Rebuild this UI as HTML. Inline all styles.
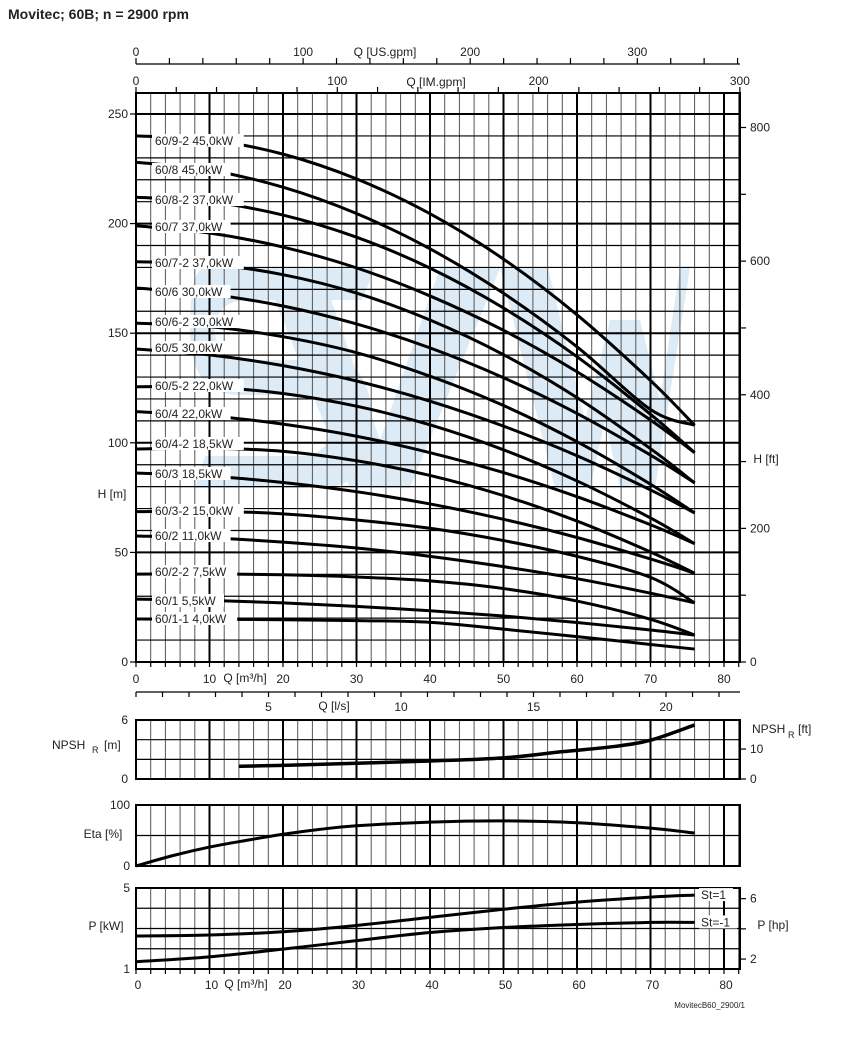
<!DOCTYPE html>
<html><head><meta charset="utf-8"><style>
body{margin:0;background:#fff;}
svg{display:block;font-family:"Liberation Sans",Arial,sans-serif;}
</style></head><body>
<svg id="chart" width="844" height="1053" viewBox="0 0 844 1053" xmlns="http://www.w3.org/2000/svg">
<text x="8" y="19" font-size="14" font-weight="bold" fill="#222">Movitec; 60B; n = 2900 rpm</text>
<g id="wm" fill="#d6e8f4" opacity="0.85">
<path d="M205 268 L375 268 L362 300 L250 300 Q215 300 215 330 Q215 360 250 360 L330 360 Q370 360 372 420 Q372 488 320 488 L195 488 L205 456 L300 456 Q330 456 330 425 Q330 395 300 395 L240 395 Q190 395 190 330 Q190 268 205 268Z"/>
<path d="M262 268 L320 268 L380 440 L440 268 L500 268 L410 488 L350 488Z"/>
<path d="M500 268 L548 268 L585 420 L610 320 L640 320 L660 400 L680 268 L690 268 L655 488 L620 488 L605 420 L590 488 L555 488Z"/>
</g>
<g id="grid"></g>
<g id="curves"></g>
<g id="labels"></g>
<g id="axes"></g>
</svg>
<script>
// ---- data ----
const qPts = [0,10,20,30,40,50,60,70,76];
const curveNames = ["60/9-2 45,0kW","60/8 45,0kW","60/8-2 37,0kW","60/7 37,0kW","60/7-2 37,0kW","60/6 30,0kW","60/6-2 30,0kW","60/5 30,0kW","60/5-2 22,0kW","60/4 22,0kW","60/4-2 18,5kW","60/3 18,5kW","60/3-2 15,0kW","60/2 11,0kW","60/2-2 7,5kW","60/1 5,5kW","60/1-1 4,0kW"];
const h92 = [240,238.2,231.7,220.4,204.5,183.8,158.4,128.4,108];
const h8  = [228,224.4,216.6,204.6,188.5,168.2,143.8,115.2,108];
const h82 = [212,210,203.9,193.8,179.7,161.5,139.3,113,95.5];
const h7  = [199,195.7,189.3,179.8,167,151.3,132.4,110.4,95.5];
const h72 = [182.6,181.5,176.7,168.3,156,140.2,120.6,97.3,81.7];
const h6  = [170.6,167.8,162.4,154.2,143.3,129.7,113.4,94.4,81.7];
const h62 = [154.6,153,148.4,141.1,130.4,117,100.5,81.1,68];
const h5  = [142.8,140.1,135.2,128.2,119,107.6,94.1,78.5,68];
const h52 = [125.6,125.4,122.5,116.7,108.2,96.8,82.6,65.7,54];
const h4  = [114.2,112.3,108.5,103,95.5,86.4,75.4,62.6,54];
const h42 = [97.2,97.5,96.1,91.8,85.1,75.9,64.3,50.2,40.5];
const h3  = [86.2,84.8,81.9,77.7,72.1,65.1,56.8,47,40.5];
const h32 = [68.6,68.8,67.6,64.8,61,55.4,48.2,38.6,27];
const h2  = [57.5,56.6,54.7,52,48.2,43.5,38,31.4,27];
const h22 = [40.1,40.2,39.8,38.8,37,33.5,27.8,19.5,12.3];
const h1  = [28.7,28.1,27,25.4,23.4,21,18,14.6,12.3];
const h11 = [19.6,19.5,19.3,18.9,18.1,15,11.6,8,5.9];
const labelY = [143,172,202,229,265,294,324,350,388,416,446,476,513,538,574,603,621];
const npshQ = [14,20,30,40,50,58,65,70,76];
const npshV = [1.3,1.38,1.6,1.83,2.15,2.78,3.3,3.95,5.5];
const etaQ = [0,5,10,15,20,25,30,40,50,60,70,76];
const etaV = [0,17,31,42,52,60,66,72,74,71,62,54];
const pQ = [0,10,20,30,40,50,60,70,76];
const pSt1 = [2.63,2.68,2.84,3.15,3.55,3.95,4.3,4.55,4.65];
const pStm1 = [1.36,1.6,1.98,2.4,2.8,3.05,3.2,3.3,3.3];
const qTicks = [0,10,20,30,40,50,60,70,80];
const hTicks = [0,50,100,150,200,250];
const ftTicks = [0,200,400,600,800];
const usTicks = [0,100,200,300];
const imTicks = [0,100,200,300];
const lsTicks = [5,10,15,20];
const hpTicks = [2,4,6];
const hpLabels = [2,6];

// ---- scales ----
const X0=136, XR=740, PXQ=7.35;
const xQ = q => X0 + q*PXQ;
const yH = h => 662 - h*2.192;
const yN = v => 779 - v*9.83;
const yE = v => 866 - v*0.61;
const yP = v => 969 - (v-1)*20.25;
const NS="http://www.w3.org/2000/svg";
function mk(tag, attrs, parent){const e=document.createElementNS(NS,tag);for(const k in attrs)e.setAttribute(k,attrs[k]);parent.appendChild(e);return e;}
const grid=document.getElementById('grid'), curves=document.getElementById('curves'), labels=document.getElementById('labels'), axes=document.getElementById('axes');

function spline(xs, ys){
  const p=xs.map((x,i)=>[x,ys[i]]);
  let d=`M${p[0][0]},${p[0][1]}`;
  for(let i=0;i<p.length-1;i++){
    const p0=p[i-1]||p[i], p1=p[i], p2=p[i+1], p3=p[i+2]||p2;
    const c1=[p1[0]+(p2[0]-p0[0])/6, p1[1]+(p2[1]-p0[1])/6];
    const c2=[p2[0]-(p3[0]-p1[0])/6, p2[1]-(p3[1]-p1[1])/6];
    d+=` C${c1[0]},${c1[1]} ${c2[0]},${c2[1]} ${p2[0]},${p2[1]}`;
  }
  return d;
}

function panelGrid(top,bottom,hLines,name){
  for(let q=0;q<=82;q+=2){
    const major=q%10===0;
    const l=mk('line',{x1:xQ(q),x2:xQ(q),y1:top,y2:bottom,stroke:major?'#000':'#555','stroke-width':major?2:1},grid);
    
    
  }
  hLines.forEach(o=>{
    const l=mk('line',{x1:X0,x2:XR,y1:o.y,y2:o.y,stroke:'#000','stroke-width':o.w},grid);
    
    
  });
  const r=mk('rect',{x:X0,y:top,width:XR-X0,height:bottom-top,fill:'none',stroke:'#000','stroke-width':2},grid);
  
  
}
const mainH=[];
for(let h=0;h<=250;h+=10) mainH.push({y:yH(h),w:h%50===0?2:1.2});
panelGrid(93,662,mainH,'head-plot');
panelGrid(yN(6),yN(0),[2,4].map(v=>({y:yN(v),w:1.2})),'npsh-plot');
panelGrid(yE(100),yE(0),[{y:yE(50),w:1.2}],'eta-plot');
panelGrid(yP(5),yP(1),[2,3,4].map(v=>({y:yP(v),w:1.2})),'power-plot');

function txt(x,y,s,size,anchor,name,parent){
  const t=mk('text',{x:x,y:y,'font-size':size||12,'text-anchor':anchor||'middle',fill:'#222'},parent||axes);
  t.textContent=s;
  
  
  return t;
}
function tick(x1,y1,x2,y2,name){
  const l=mk('line',{x1,y1,x2,y2,stroke:'#000','stroke-width':1.2},axes);
  
  
}

const hs=[h92,h8,h82,h7,h72,h6,h62,h5,h52,h4,h42,h3,h32,h2,h22,h1,h11];
hs.forEach((arr,i)=>{
  const p=mk('path',{d:spline(qPts.map(xQ),arr.map(yH)),fill:'none',stroke:'#000','stroke-width':3},curves);
  
  
});
curveNames.forEach((n,i)=>{
  const w=n.length*6.6+6;
  const r=mk('rect',{x:152,y:labelY[i]-9,width:w,height:13,fill:'#fff'},labels);
  
  
  txt(155,labelY[i]+2,n,12,'start','curve-label',labels);
});

hTicks.forEach(h=>{txt(128,yH(h)+4,String(h),12,'end','h-tick-label');tick(130,yH(h),136,yH(h),'h-tick');});
txt(112,498,'H [m]',12,'middle','y-axis-title-h');
for(let f=0;f<=800;f+=100){const y=662-f*0.3048*2.192;tick(740,y,746,y,'ft-tick');}
ftTicks.forEach(f=>txt(750,662-f*0.3048*2.192+4,String(f),12,'start','ft-tick-label'));
txt(766,463,'H [ft]',12,'middle','y-axis-title-ft');
tick(136,64,740,64,'us-gpm-axis-line');
for(let g=0;g<=360;g+=20){const x=136+g*1.671;if(x<=740)tick(x,64,x,58,'us-gpm-tick');}
usTicks.forEach(g=>txt(136+g*1.671,56,String(g),12,'middle','us-gpm-tick-label'));
txt(385,56,'Q [US.gpm]',12,'middle','x-axis-title-us-gpm');
for(let g=0;g<=300;g+=20){const x=136+g*2.013;tick(x,93,x,87,'im-gpm-tick');}
imTicks.forEach(g=>txt(136+g*2.013,85,String(g),12,'middle','im-gpm-tick-label'));
txt(436,86,'Q [IM.gpm]',12,'middle','x-axis-title-im-gpm');
for(let q=0;q<=82;q+=2)tick(xQ(q),662,xQ(q),667,'q-tick');
qTicks.forEach(q=>txt(xQ(q),683,String(q),12,'middle','q-tick-label'));
txt(245,682,'Q [m³/h]',12,'middle','x-axis-title-q');
tick(136,692,740,692,'ls-axis-line');
for(let s=0;s<=22;s+=1){const x=136+s*26.5;if(x<=740)tick(x,692,x,697,'ls-tick');}
lsTicks.forEach(s=>txt(136+s*26.5,711,String(s),12,'middle','ls-tick-label'));
txt(334,710,'Q [l/s]',12,'middle','x-axis-title-ls');

const np=mk('path',{d:spline(npshQ.map(xQ),npshV.map(yN)),fill:'none',stroke:'#000','stroke-width':3.5},curves);


[0,6].forEach(v=>txt(128,yN(v)+4,String(v),12,'end','npsh-tick-label'));
txt(52,749,'NPSH',12,'start','y-axis-title-npsh');
txt(92,753,'R',9,'start','npsh-subscript');
txt(104,749,'[m]',12,'start','npsh-unit');
[0,10].forEach(f=>{const y=yN(f*0.3048);tick(740,y,746,y,'npsh-ft-tick');txt(750,y+4,String(f),12,'start','npsh-ft-tick-label');});
txt(752,733,'NPSH',12,'start','y-axis-title-npsh-ft');
txt(788,738,'R',9,'start','npsh-ft-subscript');
txt(798,733,'[ft]',12,'start','npsh-ft-unit');

const et=mk('path',{d:spline(etaQ.map(xQ),etaV.map(yE)),fill:'none',stroke:'#000','stroke-width':3},curves);


[0,100].forEach(v=>txt(130,yE(v)+4,String(v),12,'end','eta-tick-label'));
txt(103,838,'Eta [%]',12,'middle','y-axis-title-eta');

const p1=mk('path',{d:spline(pQ.map(xQ),pSt1.map(yP)),fill:'none',stroke:'#000','stroke-width':3},curves);


const p2=mk('path',{d:spline(pQ.map(xQ),pStm1.map(yP)),fill:'none',stroke:'#000','stroke-width':3},curves);


[1,5].forEach(v=>txt(130,yP(v)+4,String(v),12,'end','power-tick-label'));
txt(106,930,'P [kW]',12,'middle','y-axis-title-power');
hpTicks.forEach(hp=>{const y=yP(hp*0.7457);tick(740,y,746,y,'hp-tick');});
hpLabels.forEach(hp=>txt(750,yP(hp*0.7457)+4,String(hp),12,'start','hp-tick-label'));
txt(773,929,'P [hp]',12,'middle','y-axis-title-hp');
const b1=mk('rect',{x:699,y:yP(pSt1[8])-7,width:34,height:13,fill:'#fff'},labels);


txt(701,yP(pSt1[8])+4,'St=1',12,'start','legend-st1',labels);
const b2=mk('rect',{x:699,y:yP(pStm1[8])-7,width:38,height:13,fill:'#fff'},labels);


txt(701,yP(pStm1[8])+4,'St=-1',12,'start','legend-st-1',labels);
for(let q=0;q<=82;q+=2)tick(xQ(q),969,xQ(q),974,'q-bottom-tick');
qTicks.forEach(q=>txt(xQ(q)+2,989,String(q),12,'middle','q-bottom-tick-label'));
txt(246,988,'Q [m³/h]',12,'middle','x-axis-title-q-bottom');
txt(745,1008,'MovitecB60_2900/1',8,'end','footer-code');
</script>
</body></html>
